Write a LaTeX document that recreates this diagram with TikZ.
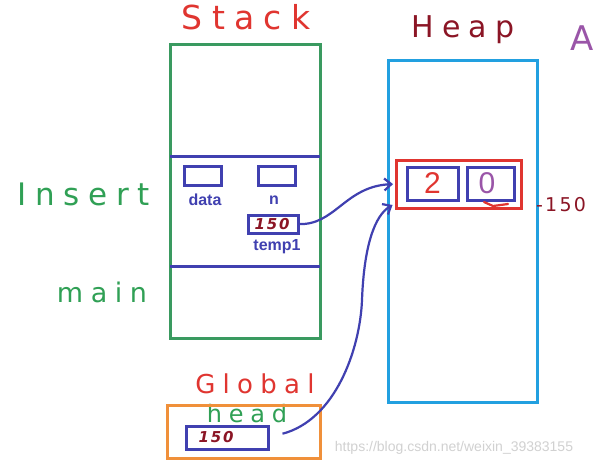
\documentclass[tikz,border=0pt]{standalone}
\usepackage{fontspec}
\setmainfont{Liberation Sans}
\newfontfamily\hand[LetterSpace=28]{DejaVu Sans}
\newfontfamily\handn[LetterSpace=12]{DejaVu Sans}
\usetikzlibrary{arrows.meta}
\definecolor{stkgreen}{HTML}{3A9A60}
\definecolor{cellblue}{HTML}{4040B0}
\definecolor{redd}{HTML}{E03530}
\definecolor{heapblue}{HTML}{22A0E0}
\definecolor{orng}{HTML}{F0903A}
\definecolor{dred}{HTML}{8B1525}
\definecolor{purp}{HTML}{9A55A8}
\definecolor{txtgreen}{HTML}{30A055}
\begin{document}
\begin{tikzpicture}[x=1pt,y=-1pt,
  box/.style={draw,line width=3pt,inner sep=0pt,outer sep=0pt},
  cell/.style={draw=cellblue,line width=3pt,inner sep=0pt,outer sep=0pt},
  lbl/.style={font=\bfseries\fontsize{16}{16}\selectfont,text=cellblue,inner sep=0pt},
  hw/.style={inner sep=0pt},
  num/.style={inner sep=0pt,font=\handn\itshape\bfseries\fontsize{15}{15}\selectfont,text=dred},
  arr/.style={draw=cellblue,line width=2.2pt,-{Straight Barb[length=7pt,width=12pt]}}]
\useasboundingbox (0,0) rectangle (600,467);
\fill[white] (0,0) rectangle (600,467);
% titles
\node[hw,text=redd,font=\hand\fontsize{33}{33}\selectfont] (stacklbl) at (246,17) {Stack};
\node[hw,text=dred,font=\hand\fontsize{30}{30}\selectfont] (heaplbl) at (463,30) {Heap};
\node[hw,text=purp,font=\hand\fontsize{34}{34}\selectfont,anchor=west] (alabel) at (570,38) {A};
\node[hw,text=txtgreen,font=\hand\fontsize{31}{31}\selectfont] (insertlbl) at (84,194) {Insert};
\node[hw,text=txtgreen,font=\hand\fontsize{27}{27}\selectfont] (mainlbl) at (102,292) {main};
\node[hw,text=redd,font=\hand\fontsize{26}{26}\selectfont] (globallbl) at (255,384) {Global};
\node[hw,text=txtgreen,font=\hand\fontsize{24}{24}\selectfont] (headlbl) at (247,414) {head};
% stack
\node[box,draw=stkgreen,minimum width=150pt,minimum height=294pt] (stack) at (245,191) {};
\coordinate (l1) at (0,156);
\coordinate (l2) at (0,266);
\draw[cellblue,line width=3pt] (stack.west |- l1) -- (stack.east |- l1);
\draw[cellblue,line width=3pt] (stack.west |- l2) -- (stack.east |- l2);
\node[cell,minimum width=37pt,minimum height=19pt] (data) at (203,176) {};
\node[cell,minimum width=37pt,minimum height=19pt] (n) at (276.5,176) {};
\node[lbl] (datalbl) at (205,200) {data};
\node[lbl] (nlbl) at (274,200) {n};
\node[cell,minimum width=50pt,minimum height=18pt] (temp1) at (273,224) {};
\node[num] (temp1v) at (272,224) {150};
\node[lbl] (temp1lbl) at (277,247) {temp1};
% heap
\node[box,draw=heapblue,minimum width=149pt,minimum height=342pt] (heap) at (462.5,231) {};
\node[box,draw=redd,minimum width=125pt,minimum height=48pt] (heapnode) at (458.5,184) {};
\node[cell,minimum width=51pt,minimum height=33pt] (cellA) at (432.5,183.5) {};
\node[cell,minimum width=47pt,minimum height=33pt] (cellB) at (490.5,183.5) {};
\node[inner sep=0pt,text=redd,font=\fontsize{30}{30}\selectfont] (two) at (432.5,183.5) {2};
\node[inner sep=0pt,text=purp,font=\fontsize{30}{30}\selectfont] (zero) at (487,183.5) {0};
\draw[redd,line width=2.2pt,line cap=round] (484,202) -- (493,206) -- (508,204);
\node[num,font=\handn\fontsize{19}{19}\selectfont] (addr) at (561,205) {-150};
% global
\node[box,draw=orng,minimum width=153pt,minimum height=53pt] (global) at (243.5,431.5) {};
\node[cell,minimum width=82pt,minimum height=23pt] (head) at (227,437.5) {};
\node[num] (headv) at (216,437.5) {150};
% arrows
\draw[arr,shorten >=3pt] (temp1.east) .. controls (335,226) and (345,186) .. (heapnode.west);
\draw[arr,shorten <=15pt,shorten >=4pt] (head.east) .. controls (335,420) and (360,350) .. (362,300)
  .. controls (364,245) and (375,215) .. ([yshift=5pt]heapnode.south west);
% watermark
\node[inner sep=0pt,text=black!18,font=\fontsize{14}{14}\selectfont] (wm) at (454,448) {https://blog.csdn.net/weixin\_39383155};
\end{tikzpicture}
\end{document}
